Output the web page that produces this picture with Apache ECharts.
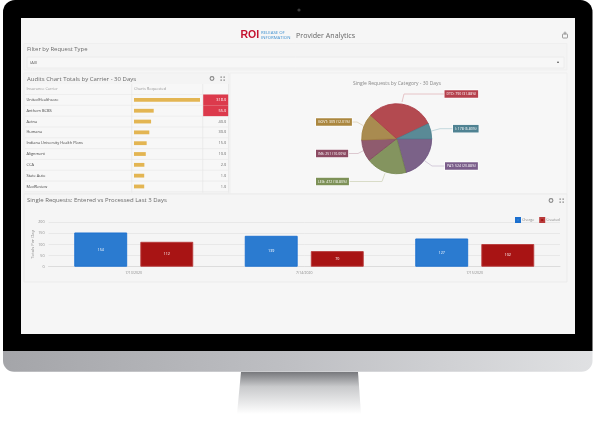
<!DOCTYPE html>
<html><head><meta charset="utf-8">
<style>html,body{margin:0;padding:0;background:#fff}#c{width:595px;height:423px}</style>
<script src="https://cdn.jsdelivr.net/npm/echarts@6/dist/echarts.min.js"></script>
</head><body><div id="c"></div>
<script>
const carriers = ['UnitedHealthcare','Anthem BCBS','Aetna','Humana','Indiana University Health Plans','Alignment','CCA','State Auto','MedReview'];
const chartsRequested = [318,55,40,30,15,10,2,1,1];
const pieNames = ['PAT','LEG','INS','GOVT','DTD','I'];
const pieValues = [524,472,251,309,790,178];
const piePercents = ['20.88','18.80','10.00','12.01','31.88','6.80'];
const days = ['7/13/2020','7/14/2020','7/15/2020'];
const charge = [154,139,127];
const created = [112,70,102];
const yTicks = {min:0,max:200,interval:50};

const FONT='"Open Sans",sans-serif';
const barAxisMin=-57;
const pieFill=['#7b6288','#84945f','#8f5b6e','#a98b50','#b34a50','#5a8a96'];
const pieEdge=['#6a4f7c','#74874d','#84485f','#a07f3f','#a93944','#4a7f8d'];
const pieTag =['#7a5d8a','#7d9157','#8c4b63','#ab873f','#b5404c','#4f8292'];
const pieLine=['#d4cbda','#d9dcc8','#dcc9d0','#e2d8c2','#e6c4c7','#c3d8dd'];
const tagPos=[[445,166],[316,181.5],[316,153.5],[316,122],[444.5,94],[453,128.7]];
const linePts=[
 [[425,161],[432,166],[445,166]],
 [[385,173.3],[382,181.5],[349,181.5]],
 [[363.3,150.7],[358,153.5],[349,153.5]],
 [[363.3,125.7],[357,122],[351,122]],
 [[402,102],[404,94],[444.5,94]],
 [[431.5,131],[440,128.7],[453,128.7]]];

function txt(x,y,s,size,fill,extra){return {type:'text',x,y,style:Object.assign({text:s,font:size+'px '+FONT,fill,verticalAlign:'middle'},extra||{})};}
function box(x,y,w,h,fill,stroke,r){return {type:'rect',shape:{x,y,width:w,height:h,r:r||0},style:{fill,stroke:stroke||null,lineWidth:stroke?1:0}};}
function ln(x1,y1,x2,y2,c){return {type:'line',shape:{x1,y1,x2,y2},style:{stroke:c,lineWidth:0.7}};}
function icons(x,y){
  const o=[{type:'circle',shape:{cx:x,cy:y,r:1.9},style:{fill:'none',stroke:'#888',lineWidth:1.1}}];
  [[8.5,-2],[11.5,-2],[8.5,1],[11.5,1]].forEach(p=>o.push(box(x+p[0],y+p[1],1.3,1.3,'#777')));
  return o;
}
const g=[];
g.push({type:'rect',shape:{x:3,y:350.7,width:589.5,height:21,r:[0,0,11,11]},style:{fill:new echarts.graphic.LinearGradient(0,0,1,0,[{offset:0,color:'#a4a5a9'},{offset:.5,color:'#bfc0c4'},{offset:1,color:'#e0e1e3'}])}});
g.push({type:'polygon',shape:{points:[[241,372],[358,372],[361,414],[237,414]]},style:{fill:new echarts.graphic.LinearGradient(0,0,0,1,[{offset:0,color:'#77787c'},{offset:.35,color:'#c9cacc'},{offset:1,color:'#ffffff'}])}});
g.push({type:'rect',shape:{x:3,y:0,width:589.5,height:351,r:[12,12,0,0]},style:{fill:'#000'}});
g.push({type:'circle',shape:{cx:299,cy:10,r:1.6},style:{fill:'#3a3a3a'}});
g.push(box(21,18,554,316,'#f6f6f6'));
// header
g.push(txt(240.5,35.5,'ROI',10.5,'#c4122f',{font:'bold 10.5px "Liberation Sans",sans-serif'}));
g.push(txt(261,33,'RELEASE OF',4.3,'#3c8fd0'));
g.push(txt(261,38,'INFORMATION',4.3,'#3c8fd0'));
g.push(txt(296,35.5,'Provider Analytics',7.1,'#666'));
g.push({type:'rect',shape:{x:562.5,y:34,width:5,height:4,r:.5},style:{fill:'none',stroke:'#888',lineWidth:.8}});
g.push({type:'circle',shape:{cx:565,cy:33,r:1},style:{fill:'none',stroke:'#888',lineWidth:.7}});
// filter panel
g.push(box(24,43.5,543,26.5,'#f4f4f4','#efefef'));
g.push(txt(27,49.5,'Filter by Request Type',5.9,'#6a6a6a'));
g.push(box(27,57,537,11,'#f7f7f7','#ececec'));
g.push(txt(30,62.6,'(All)',4,'#555'));
g.push({type:'circle',shape:{cx:558,cy:62.3,r:.8},style:{fill:'#333'}});
// panels
g.push(box(230,73,337,121,'#f7f7f7','#efefef'));
g.push(box(24,73,205,121,'#f4f4f4','#efefef'));
g.push(box(24,194,543,88,'#f5f5f5','#ebebeb'));
g.push(txt(27,79,'Audits Chart Totals by Carrier - 30 Days',6,'#6a6a6a'));
g.push(txt(27,200.5,'Single Requests: Entered vs Processed Last 3 Days',6,'#6a6a6a'));
g.push(...icons(212,78.5),...icons(551,200.5));
// table chrome
g.push(box(25,84,203,108.5,'#f7f7f7'));
g.push(txt(26.5,89.3,'Insurance Carrier',3.9,'#999'));
g.push(txt(134,89.3,'Charts Requested',3.9,'#999'));
const rowTop=94.5,rowH=10.82;
for(let i=0;i<=carriers.length;i++){g.push(ln(25,rowTop+i*rowH,228,rowTop+i*rowH,'#e9e9e9'));}
g.push(ln(131.7,84,131.7,192.5,'#e6e6e6'),ln(202.7,84,202.7,192.5,'#e6e6e6'),ln(228.5,84,228.5,192.5,'#e6e6e6'));

const pieData=pieNames.map((n,i)=>({name:n,value:pieValues[i],
  itemStyle:{color:pieFill[i],borderColor:pieEdge[i],borderWidth:.8},
  label:{backgroundColor:pieTag[i]},labelLine:{lineStyle:{color:pieLine[i],width:1}}}));

const chart=echarts.init(document.getElementById('c'),null,{renderer:'canvas'});
chart.setOption({
  animation:false,backgroundColor:'#fff',
  textStyle:{fontFamily:FONT},
  graphic:{elements:g},
  title:{text:'Single Requests by Category - 30 Days',left:392,top:76,textAlign:'center',
    textStyle:{fontSize:5,fontWeight:'normal',color:'#888',fontFamily:FONT}},
  legend:{left:510,top:212,itemWidth:4,itemHeight:4,itemGap:5,selectedMode:false,icon:'rect',
    data:['Charge','Created'],textStyle:{fontSize:3.7,color:'#888',padding:[0,0,0,-3]}},
  grid:[
    {left:134,top:rowTop,width:66,height:rowH*carriers.length},
    {left:203.2,top:rowTop,width:25,height:rowH*carriers.length},
    {left:48.5,top:222.3,width:511.5,height:44.4}
  ],
  xAxis:[
    {gridIndex:0,type:'value',min:barAxisMin,max:318,show:false},
    {gridIndex:1,type:'value',min:0,max:1,show:false},
    {gridIndex:2,type:'category',data:days,axisTick:{show:false},
     axisLine:{lineStyle:{color:'#dcdcdc',width:1}},
     axisLabel:{fontSize:3.5,color:'#888',margin:4}}
  ],
  yAxis:[
    {gridIndex:0,type:'category',inverse:true,data:carriers,axisLine:{show:false},axisTick:{show:false},
     axisLabel:{fontSize:3.9,color:'#444',align:'left',margin:107.5}},
    {gridIndex:1,type:'category',inverse:true,data:carriers,show:false},
    {gridIndex:2,type:'value',min:yTicks.min,max:yTicks.max,interval:yTicks.interval,
     name:'Totals Per Day',nameLocation:'middle',nameGap:14,nameRotate:90,nameMoveOverlap:false,
     nameTextStyle:{fontSize:4.3,color:'#888'},
     axisLine:{show:false},axisTick:{show:false},
     axisLabel:{fontSize:3.7,color:'#888',margin:4},
     splitLine:{show:true,lineStyle:{color:'#e4e4e4',width:.8}}}
  ],
  series:[
    {type:'custom',name:'Charts Requested',xAxisIndex:0,yAxisIndex:0,silent:true,
     data:chartsRequested.map((v,i)=>[v,i]),encode:{x:0,y:1},
     renderItem:function(p,api){
       const a=api.coord([barAxisMin,api.value(1)]),b=api.coord([api.value(0),api.value(1)]);
       return {type:'rect',shape:{x:a[0],y:a[1]-1.9,width:b[0]-a[0],height:3.8},style:{fill:'#e3b552'}};
     }},
    {type:'custom',name:'Cells',xAxisIndex:1,yAxisIndex:1,silent:true,
     data:chartsRequested.map((v,i)=>[1,i,v]),encode:{x:0,y:1},
     renderItem:function(p,api){
       const v=api.value(2),c=api.coord([0,api.value(1)]),s=api.size([1,1]);
       const hot=v>=50;
       return {type:'group',children:[
         {type:'rect',shape:{x:c[0],y:c[1]-s[1]/2,width:s[0],height:s[1]},style:{fill:hot?'#dc3a4c':'transparent'}},
         {type:'text',x:c[0]+s[0]-2,y:c[1],style:{text:v.toFixed(1),font:'3.9px '+FONT,fill:hot?'#fff':'#666',align:'right',verticalAlign:'middle'}}
       ]};
     }},
    {type:'pie',center:[396.7,138.7],radius:[0,35],startAngle:0,clockwise:true,data:pieData,
     label:{show:true,formatter:p=>p.name+': '+p.value+' ('+piePercents[p.dataIndex]+'%)',
       fontSize:3.5,color:'#fff',padding:[1.8,2],borderColor:'#fff',borderWidth:.6},
     labelLine:{show:true},
     labelLayout:p=>({x:tagPos[p.dataIndex][0],y:tagPos[p.dataIndex][1],align:'left',verticalAlign:'middle',labelLinePoints:linePts[p.dataIndex]})},
    {type:'bar',name:'Charge',xAxisIndex:2,yAxisIndex:2,data:charge,barWidth:'31%',barGap:'25%',
     itemStyle:{color:'#2b7bd0',borderColor:'#1b6fcf',borderWidth:.9},
     label:{show:true,position:'inside',fontSize:3.7,color:'#fff'}},
    {type:'bar',name:'Created',xAxisIndex:2,yAxisIndex:2,data:created,barWidth:'31%',barGap:'25%',
     itemStyle:{color:'#a81414',borderColor:'#b83a3a',borderWidth:.9},
     label:{show:true,position:'inside',fontSize:3.7,color:'#fff'}}
  ]
});
</script></body></html>
